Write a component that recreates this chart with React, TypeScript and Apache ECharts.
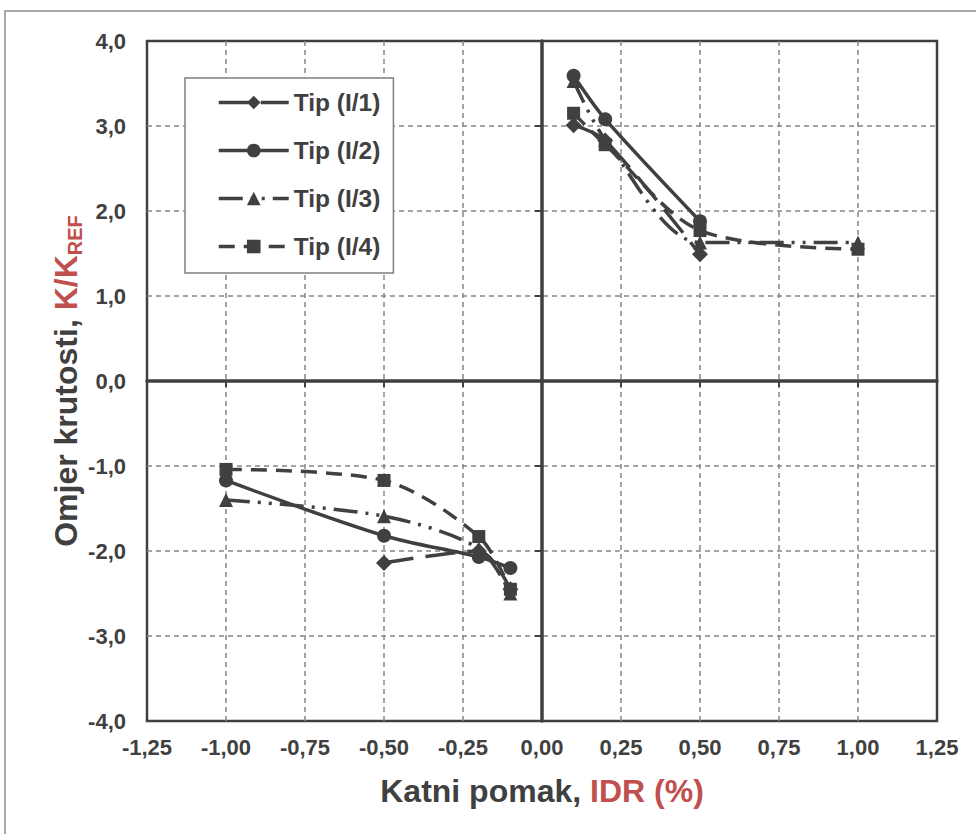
import React, { useEffect, useRef } from "react";
import * as echarts from "echarts";

// X values (IDR %) and stiffness ratios K/K_REF per type, negative and positive branches
const TIP1_NEG_X = [-0.5, -0.2, -0.1];
const TIP1_NEG_Y = [-2.14, -2.0, -2.45];
const TIP1_POS_X = [0.1, 0.2, 0.5];
const TIP1_POS_Y = [3.01, 2.83, 1.49];

const TIP2_NEG_X = [-1.0, -0.5, -0.2, -0.1];
const TIP2_NEG_Y = [-1.17, -1.82, -2.07, -2.2];
const TIP2_POS_X = [0.1, 0.2, 0.5];
const TIP2_POS_Y = [3.59, 3.08, 1.88];

const TIP3_NEG_X = [-1.0, -0.5, -0.2, -0.1];
const TIP3_NEG_Y = [-1.4, -1.59, -1.97, -2.5];
const TIP3_POS_X = [0.1, 0.2, 0.5, 1.0];
const TIP3_POS_Y = [3.53, 2.84, 1.63, 1.63];

const TIP4_NEG_X = [-1.0, -0.5, -0.2, -0.1];
const TIP4_NEG_Y = [-1.04, -1.17, -1.83, -2.45];
const TIP4_POS_X = [0.1, 0.2, 0.5, 1.0];
const TIP4_POS_Y = [3.15, 2.78, 1.77, 1.55];

const SERIES_NAMES = ["Tip (I/1)", "Tip (I/2)", "Tip (I/3)", "Tip (I/4)"];

const X_MIN = -1.25;
const X_MAX = 1.25;
const X_STEP = 0.25;
const Y_MIN = -4;
const Y_MAX = 4;
const Y_STEP = 1;

const DARK = "#404040";
const RED = "#C0504D";
const FONT = "'Liberation Sans', Arial, sans-serif";

function build(nx: number[], ny: number[], px: number[], py: number[]) {
  const out: any[] = [];
  nx.forEach((x, i) => out.push([x, ny[i]]));
  out.push([0, "-"]);
  px.forEach((x, i) => out.push([x, py[i]]));
  return out;
}

export default function App() {
  const ref = useRef<HTMLDivElement>(null);
  useEffect(() => {
    if (!ref.current) return;
    const chart = echarts.init(ref.current, undefined, { renderer: "svg" });
    const lbl = {
      color: DARK,
      fontFamily: FONT,
      fontWeight: "bold" as const,
      fontSize: 22,
    };
    const mk = (name: string, data: any[], symbol: string, size: number, dash: any) => ({
      name,
      type: "line",
      data,
      smooth: 0.3,
      symbol,
      symbolSize: size,
      showAllSymbol: true,
      connectNulls: false,
      lineStyle: { color: DARK, width: 3.5, type: dash },
      itemStyle: { color: DARK, borderWidth: 0 },
      emphasis: { disabled: true },
    });
    chart.setOption({
      animation: false,
      backgroundColor: "#ffffff",
      graphic: [
        {
          type: "rect",
          shape: { x: 5, y: 11, width: 1100, height: 900 },
          style: { fill: "none", stroke: "#8c8c8c", lineWidth: 1.5 },
          silent: true,
          z: -10,
        },
      ],
      grid: {
        left: 147,
        top: 41,
        width: 790,
        height: 680,
        show: true,
        borderColor: DARK,
        borderWidth: 2.5,
        backgroundColor: "transparent",
      },
      legend: {
        orient: "vertical",
        left: 185,
        top: 78,
        width: 213,
        padding: [10, 13, 12, 32],
        itemGap: 19,
        itemWidth: 70,
        itemHeight: 17,
        backgroundColor: "#ffffff",
        borderColor: "#808080",
        borderWidth: 1.5,
        data: SERIES_NAMES,
        lineStyle: { width: 3.5 },
        textStyle: { ...lbl, fontSize: 24.5, lineHeight: 29 },
        z: 10,
      },
      xAxis: [
        {
          type: "value",
          min: X_MIN,
          max: X_MAX,
          interval: X_STEP,
          position: "bottom",
          axisLine: { show: false, onZero: false },
          axisTick: { show: false },
          axisLabel: {
            ...lbl,
            margin: 15,
            formatter: (v: number) => v.toFixed(2).replace(".", ","),
          },
          splitLine: {
            show: true,
            showMinLine: false,
            showMaxLine: false,
            lineStyle: { color: "#868686", width: 1.5, type: [5, 4] },
          },
          name: "{a|Katni pomak, }{b|IDR (%)}",
          nameLocation: "middle",
          nameGap: 54,
          nameTextStyle: {
            rich: {
              a: { color: DARK, fontFamily: FONT, fontWeight: "bold", fontSize: 32 },
              b: { color: RED, fontFamily: FONT, fontWeight: "bold", fontSize: 32 },
            },
          },
        },
        {
          type: "value",
          min: X_MIN,
          max: X_MAX,
          interval: X_STEP,
          position: "bottom",
          axisLine: { show: true, onZero: true, onZeroAxisIndex: 0, lineStyle: { color: DARK, width: 3.5 } },
          axisTick: { show: true, length: 6, lineStyle: { color: DARK, width: 2 } },
          axisLabel: { show: false },
          splitLine: { show: false },
        },
      ],
      yAxis: [
        {
          type: "value",
          min: Y_MIN,
          max: Y_MAX,
          interval: Y_STEP,
          position: "left",
          axisLine: { show: false, onZero: false },
          axisTick: { show: false },
          axisLabel: {
            ...lbl,
            margin: 21,
            formatter: (v: number) => v.toFixed(1).replace(".", ","),
          },
          splitLine: {
            show: true,
            showMinLine: false,
            showMaxLine: false,
            lineStyle: { color: "#868686", width: 1.5, type: [5, 4] },
          },
          name: "{a|Omjer krutosti, }{b|K/K}{s|REF}",
          nameLocation: "middle",
          nameGap: 62,
          nameMoveOverlap: false,
          nameRotate: 90,
          nameTextStyle: {
            rich: {
              a: { color: DARK, fontFamily: FONT, fontWeight: "bold", fontSize: 32, lineHeight: 38 },
              b: { color: RED, fontFamily: FONT, fontWeight: "bold", fontSize: 32, lineHeight: 38 },
              s: { color: RED, fontFamily: FONT, fontWeight: "bold", fontSize: 20, lineHeight: 22, verticalAlign: "bottom" },
            },
          },
        },
        {
          type: "value",
          min: Y_MIN,
          max: Y_MAX,
          interval: Y_STEP,
          position: "left",
          axisLine: { show: true, onZero: true, onZeroAxisIndex: 0, lineStyle: { color: DARK, width: 3.5 } },
          axisTick: { show: true, length: 7, lineStyle: { color: DARK, width: 2 } },
          axisLabel: { show: false },
          splitLine: { show: false },
        },
      ],
      series: [
        mk(SERIES_NAMES[0], build(TIP1_NEG_X, TIP1_NEG_Y, TIP1_POS_X, TIP1_POS_Y), "diamond", 16, [30, 12]),
        mk(SERIES_NAMES[1], build(TIP2_NEG_X, TIP2_NEG_Y, TIP2_POS_X, TIP2_POS_Y), "circle", 14, "solid"),
        mk(SERIES_NAMES[2], build(TIP3_NEG_X, TIP3_NEG_Y, TIP3_POS_X, TIP3_POS_Y), "triangle", 14, [24, 8, 3, 8, 3, 8]),
        mk(SERIES_NAMES[3], build(TIP4_NEG_X, TIP4_NEG_Y, TIP4_POS_X, TIP4_POS_Y), "rect", 13, [16, 9]),
      ],
    });
    return () => chart.dispose();
  }, []);
  return (
    <div
      ref={ref}
      style={{ position: "fixed", left: 0, top: 0, width: 976, height: 834 }}
    />
  );
}
